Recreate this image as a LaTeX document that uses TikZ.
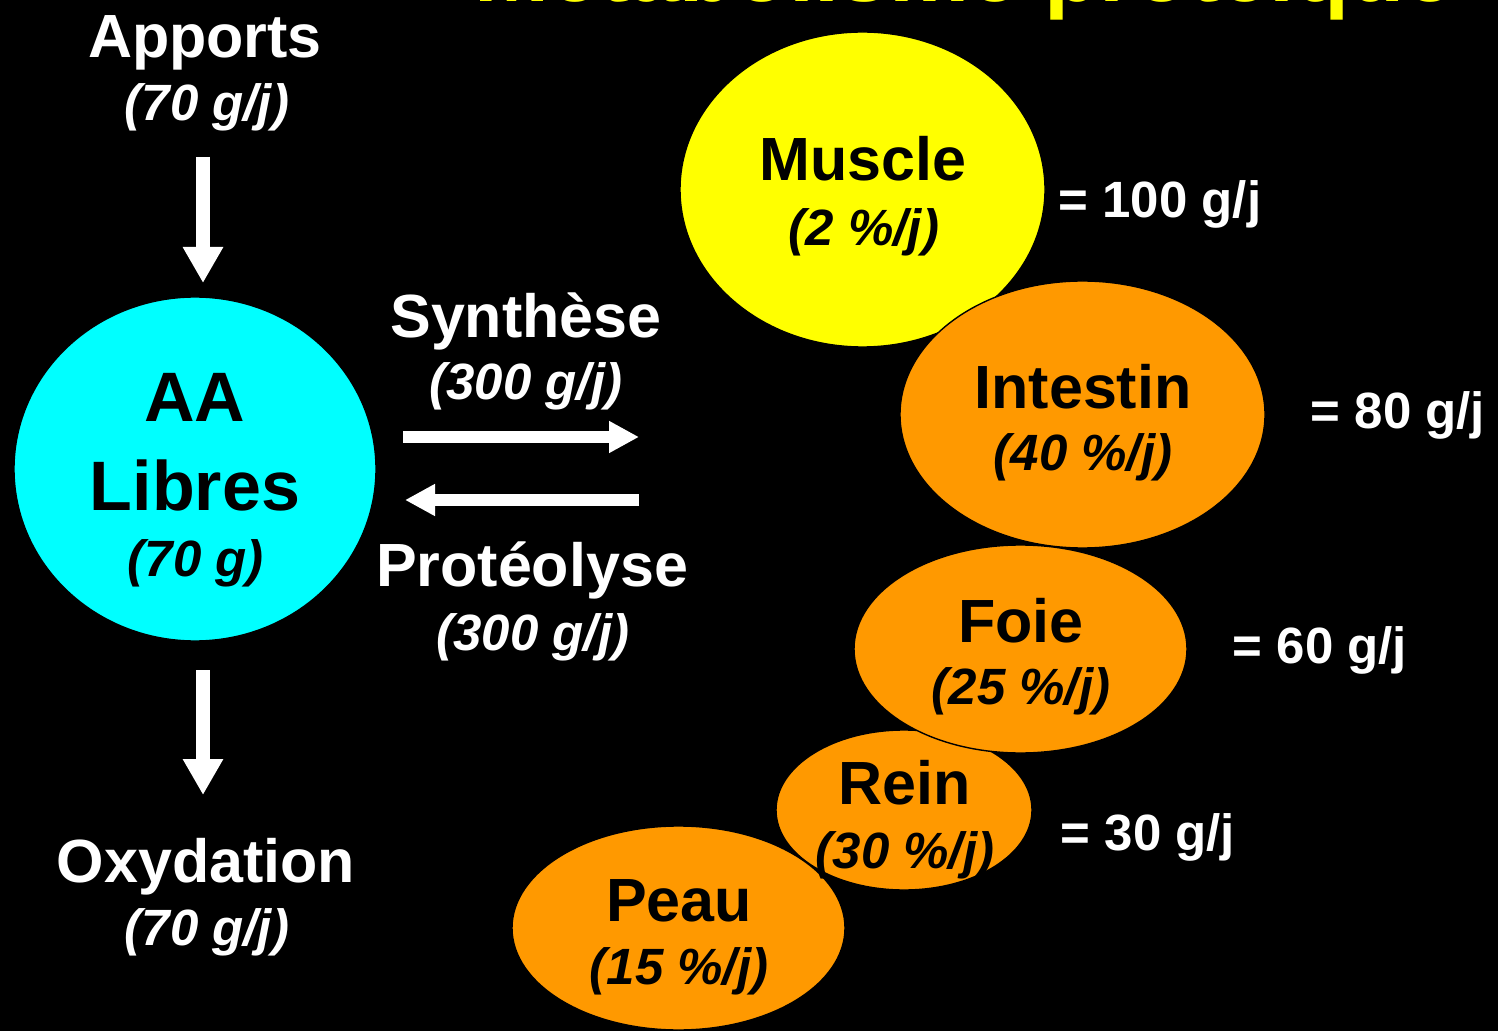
\documentclass[tikz,border=0pt]{standalone}
\usepackage{fontspec}
\setmainfont{Liberation Sans}
\usetikzlibrary{arrows.meta,shapes.geometric}
\definecolor{orgA}{RGB}{255,153,0}
\definecolor{ylwA}{RGB}{255,255,0}
\definecolor{cyA}{RGB}{0,255,255}
\tikzset{
  big/.style={text=white,font=\fontsize{30.5pt}{36pt}\selectfont\bfseries,anchor=base,inner sep=0pt},
  sub/.style={text=white,font=\fontsize{25.5pt}{30pt}\selectfont\bfseries\itshape,anchor=base,inner sep=0pt},
  val/.style={text=white,font=\fontsize{25.5pt}{30pt}\selectfont\bfseries,anchor=base,inner sep=0pt},
  organ/.style={ellipse,draw=black,line width=0.7pt,inner sep=0pt},
  vflow/.style={draw=white,line width=7pt,-{Triangle[length=18pt,width=19pt]}},
  hflow/.style={draw=white,line width=5.8pt,-{Triangle[length=15pt,width=15pt]}},
}
\begin{document}
\begin{tikzpicture}[x=0.5pt,y=-0.5pt]
\useasboundingbox (0,0) rectangle (1498,1031);
\fill[black] (0,0) rectangle (1498,1031);
% title (cut off at top, as in the reference)
\node[text=ylwA,font=\fontsize{45pt}{50pt}\selectfont\bfseries,anchor=base west,inner sep=0pt] (title) at (474,1.5) {Métabolisme protéique};
% organs
\node[organ,fill=ylwA,minimum width=182.5pt,minimum height=157.5pt] (muscle) at (862.5,189.5) {};
\node[organ,fill=orgA,minimum width=128pt,minimum height=80pt] (rein) at (904,810) {};
\node[organ,fill=orgA,minimum width=166.5pt,minimum height=102pt] (peau) at (678.5,928) {};
\node[organ,fill=orgA,minimum width=166.5pt,minimum height=104pt] (foie) at (1020.5,649) {};
\node[organ,fill=orgA,minimum width=182.5pt,minimum height=133.5pt] (intestin) at (1082.5,414.5) {};
\node[organ,fill=cyA,minimum width=181pt,minimum height=172pt] (aa) at (195,469) {};
% texts left
\node[big] (apports) at (205,58) {Apports};
\node[sub] (apportsv) at (207,121) {(70 g/j)};
\node[big] (synth) at (526,338) {Synthèse};
\node[sub] (synthv) at (526,400) {(300 g/j)};
\node[big] (proteo) at (532,586) {Protéolyse};
\node[sub] (proteov) at (533,650) {(300 g/j)};
\node[big] (oxy) at (206,882) {Oxydation};
\node[sub] (oxyv) at (207,945) {(70 g/j)};
\node[big,text=black,font=\fontsize{35pt}{40pt}\selectfont\bfseries] (aat) at (195,422) {AA};
\node[big,text=black,font=\fontsize{35pt}{40pt}\selectfont\bfseries] (libres) at (195,510) {Libres};
\node[sub,text=black] (aav) at (196,576) {(70 g)};
% organ texts
\node[big,text=black] (muscleT) at (863,181) {Muscle};
\node[sub,text=black] (muscleV) at (864,246) {(2 \%/j)};
\node[val] (muscleR) at (1160,218) {= 100 g/j};
\node[big,text=black] (intT) at (1083,409) {Intestin};
\node[sub,text=black] (intV) at (1083,471) {(40 \%/j)};
\node[val] (intR) at (1398,429) {= 80 g/j};
\node[big,text=black] (foieT) at (1021,642) {Foie};
\node[sub,text=black] (foieV) at (1021,704) {(25 \%/j)};
\node[val] (foieR) at (1320,663) {= 60 g/j};
\node[big,text=black] (reinT) at (905,804) {Rein};
\node[sub,text=black] (reinV) at (905,868) {(30 \%/j)};
\node[val] (reinR) at (1148,850) {= 30 g/j};
\node[big,text=black] (peauT) at (679,921) {Peau};
\node[sub,text=black] (peauV) at (679,984) {(15 \%/j)};
% arrows
\coordinate (a1s) at (203,157);
\coordinate (a1e) at (203,283);
\coordinate (a2s) at (203,670);
\coordinate (a2e) at (203,795);
\coordinate (a3s) at (403,437);
\coordinate (a3e) at (639,437);
\coordinate (a4s) at (639,500);
\coordinate (a4e) at (405,500);
\draw[vflow] (a1s) -- (a1e);
\draw[vflow] (a2s) -- (a2e);
\draw[hflow] (a3s) -- (a3e);
\draw[hflow] (a4s) -- (a4e);
\end{tikzpicture}
\end{document}
